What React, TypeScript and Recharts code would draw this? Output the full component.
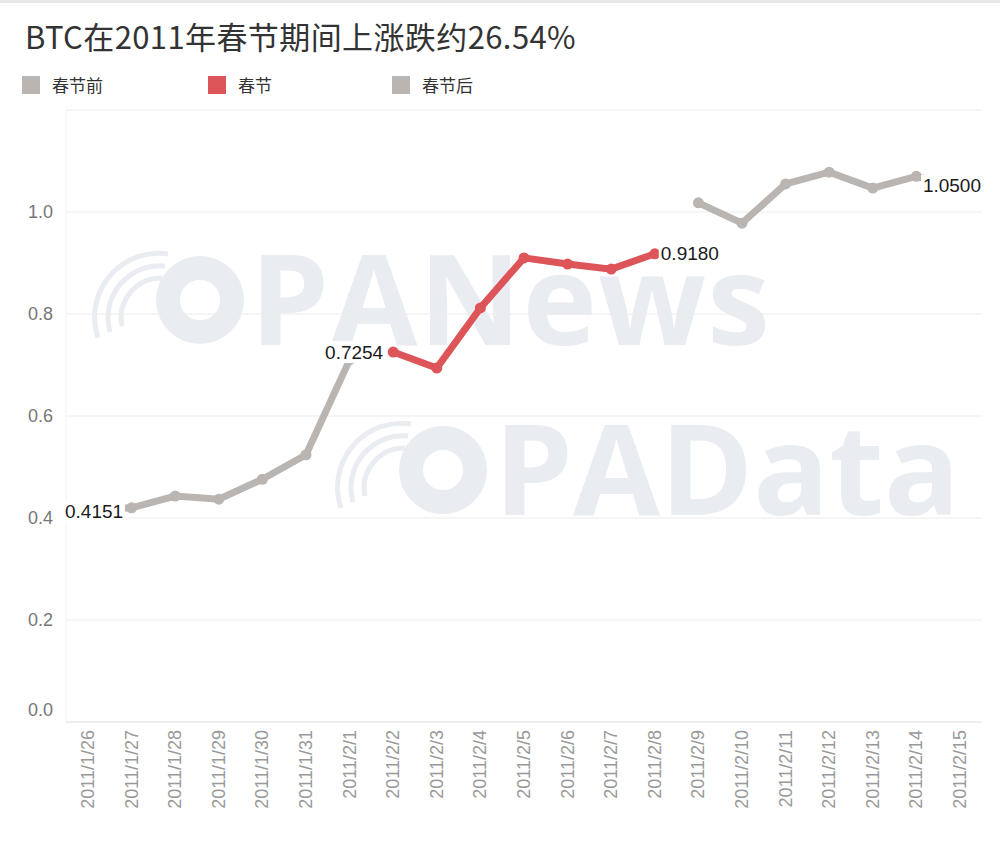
import React from 'react';
import {
  LineChart,
  Line,
  XAxis,
  YAxis,
  CartesianGrid,
  LabelList,
} from 'recharts';

// dates on the x axis
const dates = [
  '2011/1/26', '2011/1/27', '2011/1/28', '2011/1/29', '2011/1/30', '2011/1/31', '2011/2/1',
  '2011/2/2', '2011/2/3', '2011/2/4', '2011/2/5', '2011/2/6', '2011/2/7', '2011/2/8',
  '2011/2/9', '2011/2/10', '2011/2/11', '2011/2/12', '2011/2/13', '2011/2/14', '2011/2/15',
];

// BTC price per segment, null where the segment has no value
const beforeFestival = [0.4151, 0.42, 0.443, 0.437, 0.476, 0.524, 0.71,
  null, null, null, null, null, null, null, null, null, null, null, null, null, null];
const duringFestival = [null, null, null, null, null, null, null,
  0.7254, 0.694, 0.812, 0.91, 0.898, 0.888, 0.918,
  null, null, null, null, null, null, null];
const afterFestival = [null, null, null, null, null, null, null, null, null, null, null, null, null, null,
  1.018, 0.978, 1.055, 1.078, 1.047, 1.07, 1.05];

const yTicks = [0, 0.2, 0.4, 0.6, 0.8, 1.0];

const seriesNames = ['春节前', '春节', '春节后'];

const GRAY = '#bab5b1';
const RED = '#dd5459';
const colors = [GRAY, RED, GRAY];

const data = dates.map((d, i) => ({
  date: d,
  before: beforeFestival[i],
  during: duringFestival[i],
  after: afterFestival[i],
}));

const LABEL_FONT = "'Liberation Sans', Arial, sans-serif";

function XTick({ x, y, payload }: any) {
  return (
    <text
      x={x}
      y={y}
      transform={`rotate(-90, ${x}, ${y})`}
      textAnchor="end"
      dominantBaseline="central"
      fontSize={18}
      fill="#999"
      fontFamily={LABEL_FONT}
    >
      {payload.value}
    </text>
  );
}

function YTick({ y, payload }: any) {
  return (
    <text
      x={53}
      y={payload.value === 0 ? y - 12 : y}
      textAnchor="end"
      dominantBaseline="central"
      fontSize={18}
      fill="#777"
      fontFamily={LABEL_FONT}
    >
      {payload.value.toFixed(1)}
    </text>
  );
}

// value label with a white box behind it
function boxLabel(tx: number, ty: number, anchor: 'start' | 'end', text: string) {
  const w = 62;
  const left = anchor === 'start' ? tx - 2 : tx - w + 2;
  return (
    <g>
      <rect x={left} y={ty - 11} width={w} height={22} fill="#fff" />
      <text
        x={tx}
        y={ty}
        textAnchor={anchor}
        dominantBaseline="central"
        fontSize={19}
        fill="#1a1a1a"
        fontFamily={LABEL_FONT}
      >
        {text}
      </text>
    </g>
  );
}

function makeLabel(which: 'before' | 'during' | 'after') {
  return (props: any) => {
    const { x, y, value, index } = props;
    if (value == null || x == null || y == null) return null;
    const text = Number(value).toFixed(4);
    if (which === 'before' && index === 0) return boxLabel(x - 23, y + 1, 'start', text);
    if (which === 'during' && index === 7) return boxLabel(x - 10, y, 'end', text);
    if (which === 'during' && index === 13) return boxLabel(x + 6, y, 'start', text);
    if (which === 'after' && index === dates.length - 1) return boxLabel(x + 21, y - 1, 'end', text);
    return null;
  };
}

function Watermark() {
  const c = '#e9ecf1';
  const logo = (cx: number, cy: number) => (
    <g fill="none" stroke={c}>
      <path d={`M ${cx - 62} ${cy + 38} A 64 64 0 0 1 ${cx + 8} ${cy - 46}`} strokeWidth={5} />
      <path d={`M ${cx - 50} ${cy + 32} A 52 52 0 0 1 ${cx + 5} ${cy - 34}`} strokeWidth={5} />
      <path d={`M ${cx - 38} ${cy + 26} A 40 40 0 0 1 ${cx + 2} ${cy - 22}`} strokeWidth={5} />
      <circle cx={cx + 40} cy={cy} r={32} strokeWidth={24} />
    </g>
  );
  return (
    <svg width={1000} height={866} style={{ position: 'absolute', left: 0, top: 0 }}>
      {logo(160, 300)}
      <text x={250} y={345} fontSize={126} fontWeight={700} fill={c} fontFamily="'Open Sans', sans-serif" textLength={520}>
        PANews
      </text>
      {logo(403, 470)}
      <text x={494} y={515} fontSize={126} fontWeight={700} fill={c} fontFamily="'Open Sans', sans-serif" textLength={466}>
        PAData
      </text>
    </svg>
  );
}

export default function App() {
  return (
    <div
      style={{
        position: 'absolute',
        left: 0,
        top: 0,
        width: 1000,
        height: 866,
        background: '#fff',
        overflow: 'hidden',
      }}
    >
      <div style={{ position: 'absolute', left: 0, top: 0, width: 1000, height: 3, background: '#e8e8e8' }} />
      <Watermark />
      <div
        style={{
          position: 'absolute',
          left: 25,
          top: 15,
          fontSize: 31,
          letterSpacing: 0.4,
          color: '#333',
          fontFamily: "'Noto Sans CJK SC', sans-serif",
          whiteSpace: 'nowrap',
          lineHeight: '42px',
        }}
      >
        BTC在2011年春节期间上涨跌约26.54%
      </div>
      {seriesNames.map((name, i) => (
        <div
          key={name}
          style={{
            position: 'absolute',
            left: [22, 208, 392][i],
            top: 75,
            display: 'flex',
            alignItems: 'center',
            fontFamily: "'Noto Sans CJK SC', sans-serif",
            fontSize: 17,
            color: '#333',
            lineHeight: '20px',
          }}
        >
          <span style={{ display: 'inline-block', width: 18, height: 18, background: colors[i], marginRight: 12 }} />
          {name}
        </div>
      ))}
      <div style={{ position: 'absolute', left: 0, top: 0 }}>
        <LineChart width={1000} height={866} data={data} margin={{ top: 110, right: 18, bottom: 0, left: 0 }}>
          <CartesianGrid vertical={false} stroke="#ececec" />
          <XAxis
            dataKey="date"
            height={144}
            padding={{ left: 22, right: 22 }}
            tick={<XTick />}
            tickLine={false}
            axisLine={{ stroke: '#e6e6e6' }}
            interval={0}
          />
          <YAxis
            width={66}
            domain={[0, 1.2]}
            ticks={yTicks}
            tick={<YTick />}
            tickLine={false}
            axisLine={{ stroke: '#f2f2f2' }}
          />
          <Line
            dataKey="before"
            stroke={GRAY}
            strokeWidth={7}
            dot={{ r: 5.5, fill: GRAY, stroke: GRAY, strokeWidth: 0 }}
            connectNulls={false}
            isAnimationActive={false}
          >
            <LabelList dataKey="before" content={makeLabel('before')} />
          </Line>
          <Line
            dataKey="during"
            stroke={RED}
            strokeWidth={7}
            dot={{ r: 5.5, fill: RED, stroke: RED, strokeWidth: 0 }}
            connectNulls={false}
            isAnimationActive={false}
          >
            <LabelList dataKey="during" content={makeLabel('during')} />
          </Line>
          <Line
            dataKey="after"
            stroke={GRAY}
            strokeWidth={7}
            dot={{ r: 5.5, fill: GRAY, stroke: GRAY, strokeWidth: 0 }}
            connectNulls={false}
            isAnimationActive={false}
          >
            <LabelList dataKey="after" content={makeLabel('after')} />
          </Line>
        </LineChart>
      </div>
    </div>
  );
}
